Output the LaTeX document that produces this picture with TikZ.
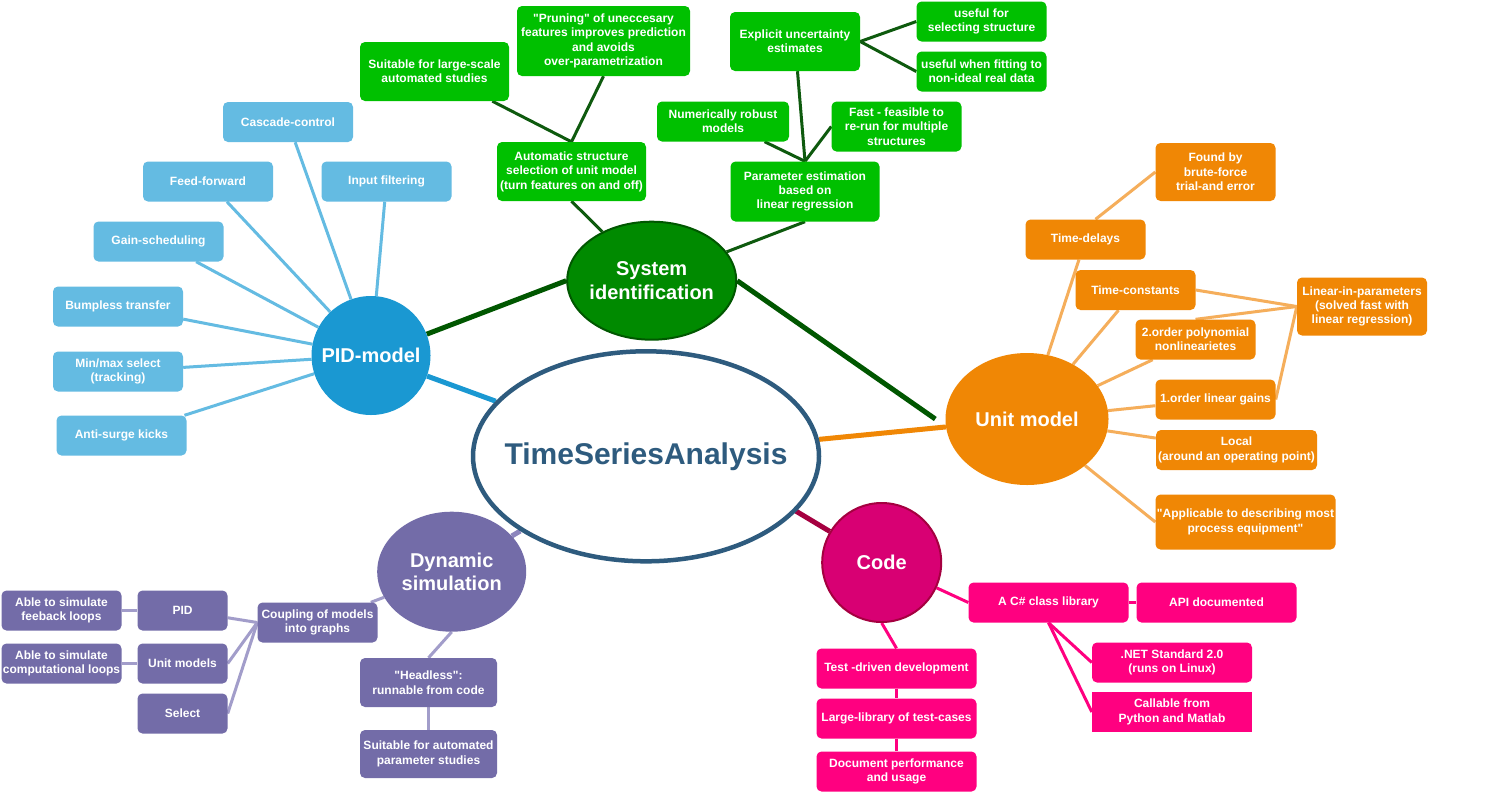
\documentclass[tikz,border=0pt]{standalone}
\usepackage{fontspec}
\setmainfont{Liberation Sans}[Ligatures=TeXOff]
\usetikzlibrary{shapes.geometric}
\pgfdeclarelayer{bg}
\pgfsetlayers{bg,main}
\definecolor{pidblue}{HTML}{1A98D2}
\definecolor{lblue}{HTML}{64BBE2}
\definecolor{sgreen}{HTML}{008A00}
\definecolor{sgreenS}{HTML}{005700}
\definecolor{bgreen}{HTML}{00C000}
\definecolor{glines}{HTML}{0E5A0E}
\definecolor{orng}{HTML}{F08705}
\definecolor{lorng}{HTML}{F5AE5B}
\definecolor{cpink}{HTML}{D80073}
\definecolor{cpinkS}{HTML}{A50040}
\definecolor{bpink}{HTML}{FF0080}
\definecolor{purp}{HTML}{736CA8}
\definecolor{lpurp}{HTML}{A29DCA}
\definecolor{mpurp}{HTML}{8C85BD}
\definecolor{tsablue}{HTML}{2E5B7E}
\tikzset{
  box/.style={rectangle, rounded corners=5pt, inner sep=0pt, align=center, text=white,
    font=\fontsize{12}{14.4}\selectfont\bfseries, minimum width=130pt, minimum height=40pt},
  bbox/.style={box, fill=lblue},
  gbox/.style={box, fill=bgreen},
  obox/.style={box, fill=orng, minimum width=120pt},
  pbox/.style={box, fill=purp},
  kbox/.style={box, fill=bpink, minimum width=160pt},
  bigtxt/.style={text=white, align=center, inner sep=0pt,
    font=\fontsize{20}{23.5}\selectfont\bfseries},
  big/.style={ellipse, inner sep=0pt},
  thin/.style={line width=3pt},
  thick/.style={line width=5pt},
}
\begin{document}
\begin{tikzpicture}[x=1pt,y=-1pt]
\useasboundingbox (0,0) rectangle (1498,793);

% central ellipses
\node[big, draw=tsablue, line width=4.5pt, fill=white, minimum width=346pt, minimum height=210pt,
  label={[text=tsablue, inner sep=0pt, font=\fontsize{30}{36}\selectfont\bfseries]center:TimeSeriesAnalysis}] (tsa) at (646,456.3) {};
\node[big, fill=pidblue, minimum width=119pt, minimum height=119pt,
  label={[bigtxt]center:PID-model}] (pid) at (371,355.5) {};
\node[big, fill=sgreen, draw=sgreenS, line width=2pt, minimum width=169pt, minimum height=118pt,
  label={[bigtxt]center:{System\\identification}}] (sysid) at (651.7,280.7) {};
\node[big, fill=orng, minimum width=163pt, minimum height=132pt,
  label={[bigtxt]center:Unit model}] (unit) at (1027,419) {};
\node[big, fill=cpink, draw=cpinkS, line width=2pt, minimum width=119pt, minimum height=119pt,
  label={[bigtxt]center:Code}] (code) at (881.7,562.5) {};
\node[big, fill=purp, minimum width=149pt, minimum height=120pt,
  label={[bigtxt]center:{Dynamic\\simulation}}] (dyn) at (451.7,571.7) {};

% PID boxes
\node[bbox] (casc) at (288,122) {Cascade-control};
\node[bbox] (ff) at (208,181.5) {Feed-forward};
\node[bbox] (inf) at (386.5,181.5) {Input filtering};
\node[bbox] (gs) at (158.5,241.5) {Gain-scheduling};
\node[bbox] (bt) at (118,306.5) {Bumpless transfer};
\node[bbox] (mm) at (118,371.5) {Min/max select\\(tracking)};
\node[bbox] (as) at (121.5,435.5) {Anti-surge kicks};

% System identification boxes
\node[gbox, minimum width=149pt, minimum height=59pt] (suit) at (434.5,71.5) {Suitable for large-scale\\automated studies};
\node[gbox, minimum width=173pt, minimum height=70pt] (prun) at (603.5,41) {"Pruning" of uneccesary\\features improves prediction\\and avoids\\over-parametrization};
\node[gbox, minimum width=149pt, minimum height=59pt] (auto) at (571.5,171.5) {Automatic structure\\selection of unit model\\(turn features on and off)};
\node[gbox, minimum height=59pt] (expl) at (795,41.5) {Explicit uncertainty\\estimates};
\node[gbox] (use1) at (981.5,21.5) {useful for\\selecting structure};
\node[gbox] (use2) at (981.5,71.5) {useful when fitting to\\non-ideal real data};
\node[gbox, minimum width=132pt] (num) at (723,121.5) {Numerically robust\\models};
\node[gbox, minimum height=50pt] (fast) at (896.5,126.5) {Fast - feasible to\\re-run for multiple\\structures};
\node[gbox, minimum width=149pt, minimum height=60pt] (param) at (805,191.5) {Parameter estimation\\based on\\linear regression};

% Unit model boxes
\node[obox, minimum height=58pt] (found) at (1215.5,172) {Found by\\brute-force\\trial-and error};
\node[obox] (td) at (1085.5,239.5) {Time-delays};
\node[obox] (tc) at (1135.5,290) {Time-constants};
\node[obox, minimum width=130pt, minimum height=58pt] (lin) at (1362,306.5) {Linear-in-parameters\\(solved fast with\\linear regression)};
\node[obox] (ord2) at (1195.5,339.5) {2.order polynomial\\nonlinearietes};
\node[obox] (ord1) at (1215.5,399.5) {1.order linear gains};
\node[obox, minimum width=161pt] (loc) at (1236.5,450) {Local\\(around an operating point)};
\node[obox, minimum width=180pt, minimum height=55pt] (appl) at (1245.5,522) {"Applicable to describing most\\process equipment"};

% Dynamic simulation boxes
\node[pbox, minimum width=120pt] (ab1) at (61.5,610.5) {Able to simulate\\feeback loops};
\node[pbox, minimum width=120pt] (ab2) at (61.5,663.5) {Able to simulate\\computational loops};
\node[pbox, minimum width=90pt] (pidb) at (182.5,610.5) {PID};
\node[pbox, minimum width=90pt] (umb) at (182.5,663.5) {Unit models};
\node[pbox, minimum width=90pt] (sel) at (182.5,713.5) {Select};
\node[pbox, minimum width=120pt] (coup) at (317.5,622.5) {Coupling of models\\into graphs};
\node[pbox, minimum width=137pt, minimum height=49pt] (head) at (428.5,682.5) {"Headless":\\runnable from code};
\node[pbox, minimum width=137pt, minimum height=48pt] (suit2) at (428.5,754) {Suitable for automated\\parameter studies};

% Code boxes
\node[kbox] (csl) at (1048.5,602.5) {A C\# class library};
\node[kbox] (api) at (1216.5,602.5) {API documented};
\node[kbox] (net) at (1172,662.5) {.NET Standard 2.0\\(runs on Linux)};
\node[kbox, rounded corners=0pt] (call) at (1172,712) {Callable from\\Python and Matlab};
\node[kbox] (tdd) at (896.5,668.5) {Test -driven development};
\node[kbox] (lib) at (896.5,718.5) {Large-library of test-cases};
\node[kbox] (doc) at (896.5,771.5) {Document performance\\and usage};

\begin{pgfonlayer}{bg}
\fill[white] (0,0) rectangle (1498,793);
% main connectors
\draw[thick, pidblue] (pid) -- (tsa);
\draw[thick, sgreenS] (sysid.west) -- (pid);
\draw[thick, sgreenS] (sysid.east) -- ([xshift=-10pt]unit.west);
\draw[thick, orng] (tsa) -- (unit);
\draw[thick, mpurp] (tsa) -- (dyn);
\draw[thick, cpinkS] ([yshift=35pt]tsa.center) -- (code);
% PID
\foreach \n in {casc,ff,inf,gs,bt,mm,as} \draw[thin, lblue] (\n) -- (pid);
% System identification
\draw[thin, glines] (auto.north) -- (suit);
\draw[thin, glines] (auto.north) -- (prun.south);
\draw[thin, glines] (auto.south) -- (sysid);
\draw[thin, glines] (param.south) -- (sysid);
\draw[thin, glines] (param.north) -- (num);
\draw[thin, glines] (param.north) -- (expl);
\draw[thin, glines] (param.north) -- (fast.west);
\draw[thin, glines] (expl.east) -- (use1.west);
\draw[thin, glines] (expl.east) -- (use2.west);
% Unit model
\foreach \n in {td,tc,ord2,ord1,loc} \draw[thin, lorng] (unit) -- (\n);
\draw[thin, lorng] (unit) -- (appl.west);
\draw[thin, lorng] ([xshift=10pt]td.north) -- (found.west);
\draw[thin, lorng] (lin.west) -- (tc.east);
\draw[thin, lorng] (lin.west) -- (ord2.north);
\draw[thin, lorng] (lin.west) -- (ord1.east);
% Dynamic simulation
\draw[thin, lpurp] (dyn) -- (coup);
\draw[thin, lpurp] (dyn.south) -- (head.north);
\draw[thin, lpurp] (head) -- (suit2);
\draw[thin, lpurp] (coup.west) -- (pidb);
\draw[thin, lpurp] (coup.west) -- (umb.east);
\draw[thin, lpurp] (coup.west) -- (sel.east);
\draw[thin, lpurp] (ab1) -- (pidb);
\draw[thin, lpurp] (ab2) -- (umb);
% Code
\draw[thin, bpink] (code) -- (csl.west);
\draw[thin, bpink] (csl) -- (api);
\draw[thin, bpink] (csl.south) -- (net.west);
\draw[thin, bpink] (csl.south) -- (call.west);
\draw[thin, bpink] (code.south) -- (tdd.north);
\draw[thin, bpink] (tdd) -- (lib);
\draw[thin, bpink] (lib) -- (doc);
\end{pgfonlayer}
\end{tikzpicture}
\end{document}
